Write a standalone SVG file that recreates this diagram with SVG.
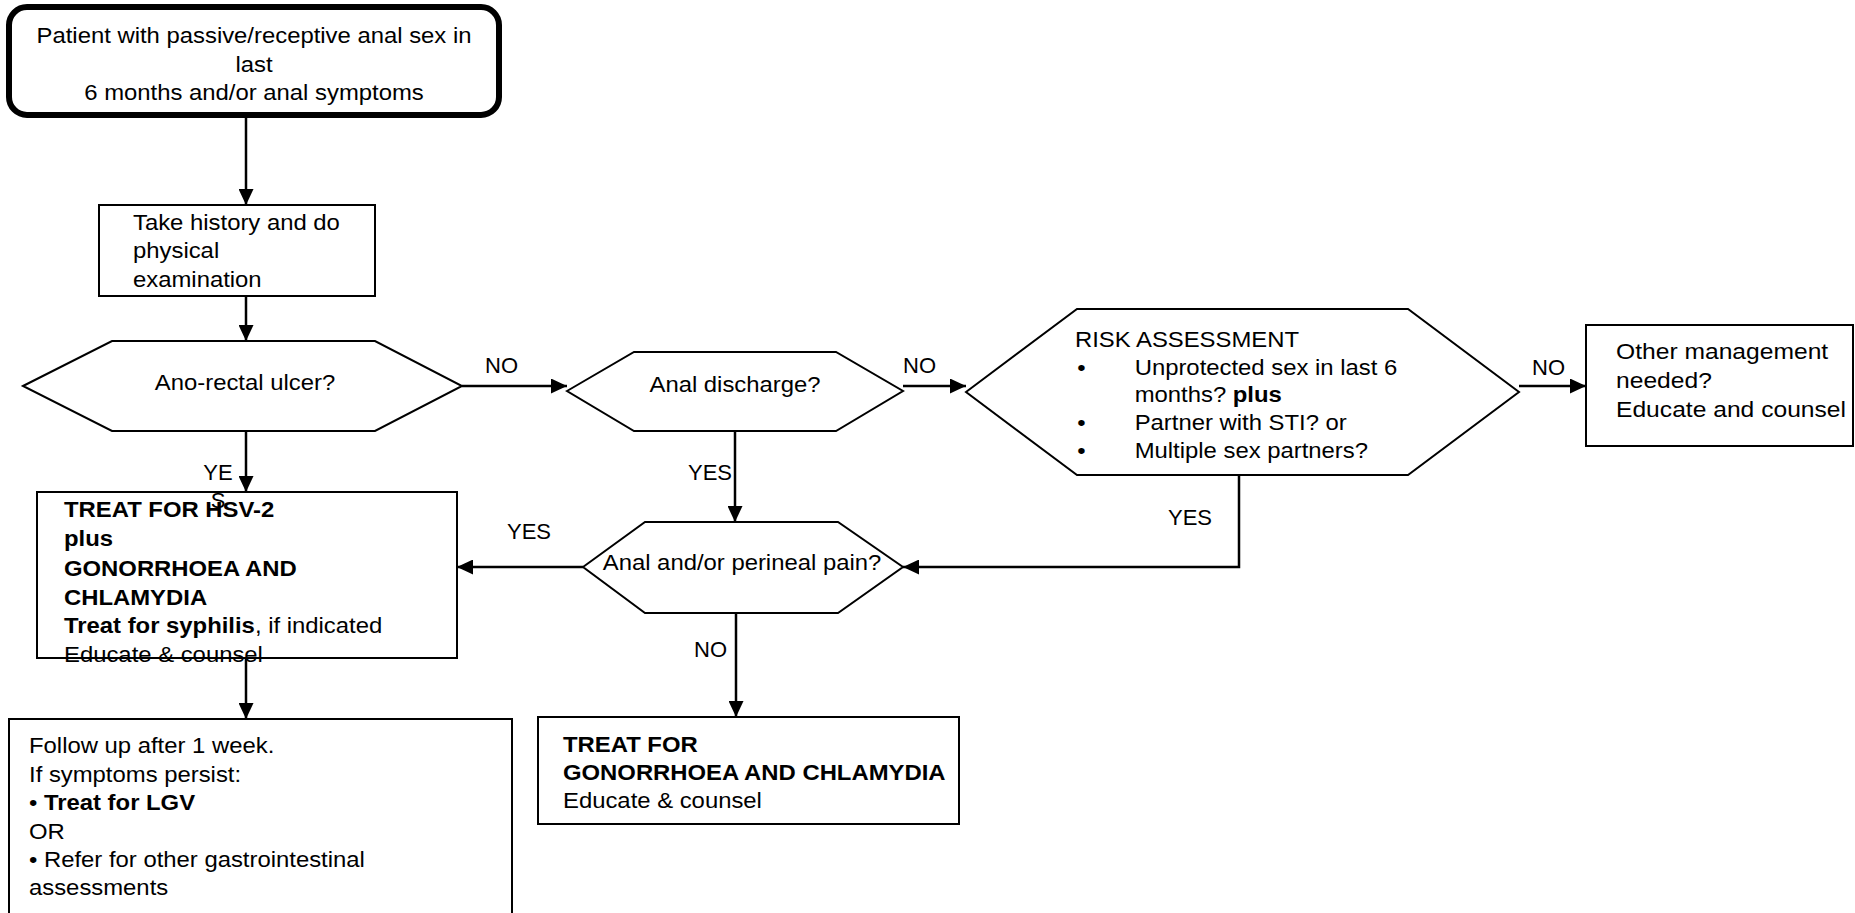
<svg xmlns="http://www.w3.org/2000/svg" width="1855" height="913" viewBox="0 0 1855 913">
<style>
text{font-family:"Liberation Sans",Arial,sans-serif;font-size:22px;fill:#000}
.b{font-weight:bold}
.box{fill:#fff;stroke:#000;stroke-width:2}
.hex{fill:#fff;stroke:#000;stroke-width:2}
.c{fill:none;stroke:#000;stroke-width:2.5}
</style>
<defs>
<marker id="ah" viewBox="0 0 16 15" refX="16" refY="7.5" markerWidth="16" markerHeight="15" markerUnits="userSpaceOnUse" orient="auto">
<path d="M0,0 L16,7.5 L0,15 z" fill="#000"/>
</marker>
</defs>
<rect width="1855" height="913" fill="#fff"/>

<g id="start">
<rect x="9" y="7" width="490" height="108" rx="18" ry="18" fill="#fff" stroke="#000" stroke-width="6"/>
<g transform="translate(254 0) scale(1.085 1)">
<text x="0" y="43" text-anchor="middle">Patient with passive/receptive anal sex in</text>
<text x="0" y="72" text-anchor="middle">last</text>
<text x="0" y="100" text-anchor="middle">6 months and/or anal symptoms</text>
</g>
</g>

<g id="history">
<rect class="box" x="99" y="205" width="276" height="91"/>
<g transform="translate(133 0) scale(1.085 1)">
<text x="0" y="230">Take history and do</text>
<text x="0" y="258">physical</text>
<text x="0" y="287">examination</text>
</g>
</g>

<g id="ulcer">
<polygon class="hex" points="23,386 112,341 375,341 462,386 375,431 112,431"/>
<g transform="translate(245 0) scale(1.085 1)">
<text x="0" y="390" text-anchor="middle">Ano-rectal ulcer?</text>
</g>
</g>

<g id="discharge">
<polygon class="hex" points="567,391 634,352 836,352 903,391 836,431 634,431"/>
<g transform="translate(735 0) scale(1.085 1)">
<text x="0" y="392" text-anchor="middle">Anal discharge?</text>
</g>
</g>

<g id="risk">
<polygon class="hex" stroke-width="1.5" points="966,392 1077,309 1408,309 1519,392 1408,475 1077,475"/>
<g transform="translate(1075 0) scale(1.085 1)">
<text x="0" y="347">RISK ASSESSMENT</text>
<text x="2" y="375">•</text>
<text x="55" y="375">Unprotected sex in last 6</text>
<text x="55" y="402">months? <tspan class="b">plus</tspan></text>
<text x="2" y="430">•</text>
<text x="55" y="430">Partner with STI? or</text>
<text x="2" y="458">•</text>
<text x="55" y="458">Multiple sex partners?</text>
</g>
</g>

<g id="other">
<rect class="box" x="1586" y="325" width="267" height="121"/>
<g transform="translate(1616 0) scale(1.12 1)">
<text x="0" y="359">Other management</text>
<text x="0" y="388">needed?</text>
<text x="0" y="417">Educate and counsel</text>
</g>
</g>

<g id="pain">
<polygon class="hex" points="583,567 645,522 838,522 903,567 838,613 645,613"/>
<g transform="translate(742 0) scale(1.085 1)">
<text x="0" y="570" text-anchor="middle">Anal and/or perineal pain?</text>
</g>
</g>

<g id="treat-hsv">
<rect class="box" x="37" y="492" width="420" height="166"/>
<g transform="translate(64 0) scale(1.085 1)">
<text x="0" y="517" class="b">TREAT FOR HSV-2</text>
<text x="0" y="546" class="b">plus</text>
<text x="0" y="576" class="b">GONORRHOEA AND</text>
<text x="0" y="605" class="b">CHLAMYDIA</text>
<text x="0" y="633"><tspan class="b">Treat for syphilis</tspan>, if indicated</text>
<text x="0" y="662">Educate &amp; counsel</text>
</g>
</g>

<g id="followup">
<rect class="box" x="9" y="719" width="503" height="220"/>
<g transform="translate(29 0) scale(1.085 1)">
<text x="0" y="753">Follow up after 1 week.</text>
<text x="0" y="782">If symptoms persist:</text>
<text x="0" y="810">• <tspan class="b">Treat for LGV</tspan></text>
<text x="0" y="839">OR</text>
<text x="0" y="867">• Refer for other gastrointestinal</text>
<text x="0" y="895">assessments</text>
</g>
</g>

<g id="treat-gc">
<rect class="box" x="538" y="717" width="421" height="107"/>
<g transform="translate(563 0) scale(1.085 1)">
<text x="0" y="752" class="b">TREAT FOR</text>
<text x="0" y="780" class="b">GONORRHOEA AND CHLAMYDIA</text>
<text x="0" y="808">Educate &amp; counsel</text>
</g>
</g>

<g id="connectors">
<line class="c" x1="246" y1="118" x2="246" y2="205" marker-end="url(#ah)"/>
<line class="c" x1="246" y1="296" x2="246" y2="341" marker-end="url(#ah)"/>
<line class="c" x1="462" y1="386" x2="567" y2="386" marker-end="url(#ah)"/>
<line class="c" x1="903" y1="386" x2="966" y2="386" marker-end="url(#ah)"/>
<line class="c" x1="1519" y1="386" x2="1586" y2="386" marker-end="url(#ah)"/>
<polyline class="c" points="1239,475 1239,567 903,567" marker-end="url(#ah)"/>
<line class="c" x1="735" y1="431" x2="735" y2="522" marker-end="url(#ah)"/>
<line class="c" x1="583" y1="567" x2="457" y2="567" marker-end="url(#ah)"/>
<line class="c" x1="246" y1="431" x2="246" y2="492" marker-end="url(#ah)"/>
<line class="c" x1="246" y1="658" x2="246" y2="719" marker-end="url(#ah)"/>
<line class="c" x1="736" y1="613" x2="736" y2="717" marker-end="url(#ah)"/>
<text x="485" y="373">NO</text>
<text x="903" y="373">NO</text>
<text x="1532" y="375">NO</text>
<text x="1168" y="525">YES</text>
<text x="688" y="480">YES</text>
<text x="507" y="539">YES</text>
<text x="218" y="480" text-anchor="middle">YE</text>
<text x="218" y="508" text-anchor="middle">S</text>
<text x="694" y="657">NO</text>
</g>
</svg>
